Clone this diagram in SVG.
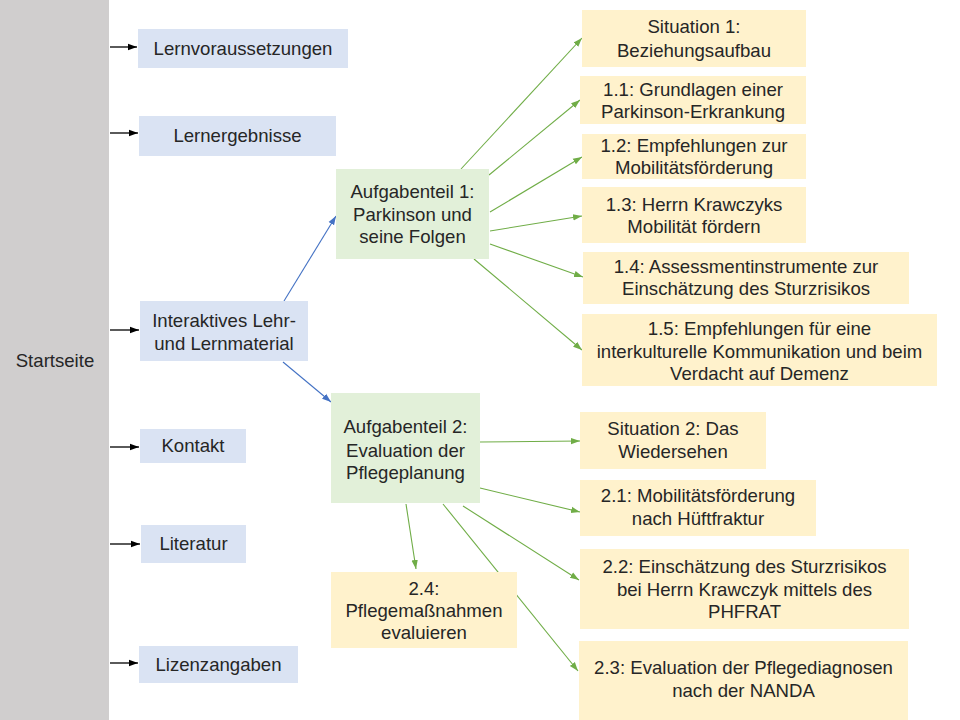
<svg xmlns="http://www.w3.org/2000/svg" width="960" height="720" viewBox="0 0 960 720">
<style>
text{font-family:"Liberation Sans",Arial,sans-serif;font-size:18.6px;fill:#262626;text-anchor:middle}
.blue{fill:#dae3f3}
.green{fill:#e2f0d9}
.orange{fill:#fff2cc}
.ck{stroke:#000;stroke-width:1.3;fill:none}
.cb{stroke:#4472c4;stroke-width:1.1;fill:none}
.cg{stroke:#70ad47;stroke-width:1.1;fill:none}
</style>
<defs>
<marker id="ak" markerUnits="userSpaceOnUse" markerWidth="10" markerHeight="8" refX="9" refY="4" orient="auto"><path d="M0,0.8 L9,4 L0,7.2 Z" fill="#000"/></marker>
<marker id="ab" markerUnits="userSpaceOnUse" markerWidth="10" markerHeight="8" refX="9" refY="4" orient="auto"><path d="M0,0.8 L9,4 L0,7.2 Z" fill="#4472c4"/></marker>
<marker id="ag" markerUnits="userSpaceOnUse" markerWidth="10" markerHeight="8" refX="9" refY="4" orient="auto"><path d="M0,0.8 L9,4 L0,7.2 Z" fill="#70ad47"/></marker>
</defs>
<rect width="960" height="720" fill="#fff"/>
<g id="startseite"><rect x="0" y="0" width="109" height="720" fill="#d0cece"/><text x="55" y="367">Startseite</text></g>
<g id="connectors">
<line class="ck" x1="110" y1="47" x2="137" y2="47" marker-end="url(#ak)"/>
<line class="ck" x1="110" y1="133" x2="138" y2="133" marker-end="url(#ak)"/>
<line class="ck" x1="110" y1="330" x2="139" y2="330" marker-end="url(#ak)"/>
<line class="ck" x1="110" y1="447" x2="139" y2="447" marker-end="url(#ak)"/>
<line class="ck" x1="110" y1="544" x2="140" y2="544" marker-end="url(#ak)"/>
<line class="ck" x1="110" y1="663" x2="138" y2="663" marker-end="url(#ak)"/>
<line class="cb" x1="284" y1="301" x2="336" y2="216" marker-end="url(#ab)"/>
<line class="cb" x1="283" y1="362" x2="331" y2="402" marker-end="url(#ab)"/>
<line class="cg" x1="461" y1="169" x2="582" y2="38" marker-end="url(#ag)"/>
<line class="cg" x1="489" y1="175" x2="580" y2="100" marker-end="url(#ag)"/>
<line class="cg" x1="490" y1="212" x2="582" y2="157" marker-end="url(#ag)"/>
<line class="cg" x1="490" y1="231" x2="582" y2="216" marker-end="url(#ag)"/>
<line class="cg" x1="490" y1="244" x2="583" y2="277" marker-end="url(#ag)"/>
<line class="cg" x1="474" y1="259" x2="582" y2="350" marker-end="url(#ag)"/>
<line class="cg" x1="480" y1="442" x2="580" y2="441" marker-end="url(#ag)"/>
<line class="cg" x1="480" y1="488" x2="580" y2="512" marker-end="url(#ag)"/>
<line class="cg" x1="463" y1="506" x2="579" y2="580" marker-end="url(#ag)"/>
<line class="cg" x1="443" y1="504" x2="578" y2="671" marker-end="url(#ag)"/>
<line class="cg" x1="406" y1="504" x2="416" y2="569" marker-end="url(#ag)"/>
</g>
<g id="lernvoraussetzungen"><rect class="blue" x="138" y="29" width="210" height="39"/><text x="243" y="55">Lernvoraussetzungen</text></g>
<g id="lernergebnisse"><rect class="blue" x="139" y="116" width="197" height="40"/><text x="237.5" y="142">Lernergebnisse</text></g>
<g id="interaktives"><rect class="blue" x="140" y="301" width="168" height="60"/><text x="224" y="327">Interaktives Lehr-</text><text x="224" y="350">und Lernmaterial</text></g>
<g id="kontakt"><rect class="blue" x="140" y="429" width="106" height="34"/><text x="193" y="452">Kontakt</text></g>
<g id="literatur"><rect class="blue" x="141" y="525" width="105" height="38"/><text x="193.5" y="550">Literatur</text></g>
<g id="lizenzangaben"><rect class="blue" x="139" y="646" width="159" height="37"/><text x="218.5" y="671">Lizenzangaben</text></g>
<g id="aufgabenteil1"><rect class="green" x="336" y="169" width="153" height="90"/><text x="412.5" y="198">Aufgabenteil 1:</text><text x="412.5" y="221">Parkinson und</text><text x="412.5" y="243">seine Folgen</text></g>
<g id="aufgabenteil2"><rect class="green" x="331" y="393" width="149" height="110"/><text x="405.5" y="433">Aufgabenteil 2:</text><text x="405.5" y="457">Evaluation der</text><text x="405.5" y="479">Pflegeplanung</text></g>
<g id="n24"><rect class="orange" x="331" y="572" width="186" height="76"/><text x="424" y="595">2.4:</text><text x="424" y="617">Pflegemaßnahmen</text><text x="424" y="639">evaluieren</text></g>
<g id="situation1"><rect class="orange" x="582" y="10" width="224" height="57"/><text x="694" y="33">Situation 1:</text><text x="694" y="57">Beziehungsaufbau</text></g>
<g id="n11"><rect class="orange" x="580" y="76" width="226" height="48"/><text x="693" y="96">1.1: Grundlagen einer</text><text x="693" y="118">Parkinson-Erkrankung</text></g>
<g id="n12"><rect class="orange" x="582" y="134" width="224" height="45"/><text x="694" y="152">1.2: Empfehlungen zur</text><text x="694" y="174">Mobilitätsförderung</text></g>
<g id="n13"><rect class="orange" x="582" y="187" width="224" height="56"/><text x="694" y="211">1.3: Herrn Krawczyks</text><text x="694" y="233">Mobilität fördern</text></g>
<g id="n14"><rect class="orange" x="583" y="252" width="326" height="52"/><text x="746" y="273">1.4: Assessmentinstrumente zur</text><text x="746" y="295">Einschätzung des Sturzrisikos</text></g>
<g id="n15"><rect class="orange" x="582" y="314" width="355" height="72"/><text x="759.5" y="335">1.5: Empfehlungen für eine</text><text x="759.5" y="358">interkulturelle Kommunikation und beim</text><text x="759.5" y="380">Verdacht auf Demenz</text></g>
<g id="situation2"><rect class="orange" x="580" y="412" width="186" height="57"/><text x="673" y="435">Situation 2: Das</text><text x="673" y="458">Wiedersehen</text></g>
<g id="n21"><rect class="orange" x="580" y="480" width="236" height="56"/><text x="698" y="502">2.1: Mobilitätsförderung</text><text x="698" y="525">nach Hüftfraktur</text></g>
<g id="n22"><rect class="orange" x="580" y="549" width="329" height="80"/><text x="744.5" y="573">2.2: Einschätzung des Sturzrisikos</text><text x="744.5" y="596">bei Herrn Krawczyk mittels des</text><text x="744.5" y="618">PHFRAT</text></g>
<g id="n23"><rect class="orange" x="579" y="641" width="329" height="79"/><text x="743.5" y="674">2.3: Evaluation der Pflegediagnosen</text><text x="743.5" y="697">nach der NANDA</text></g>
</svg>
